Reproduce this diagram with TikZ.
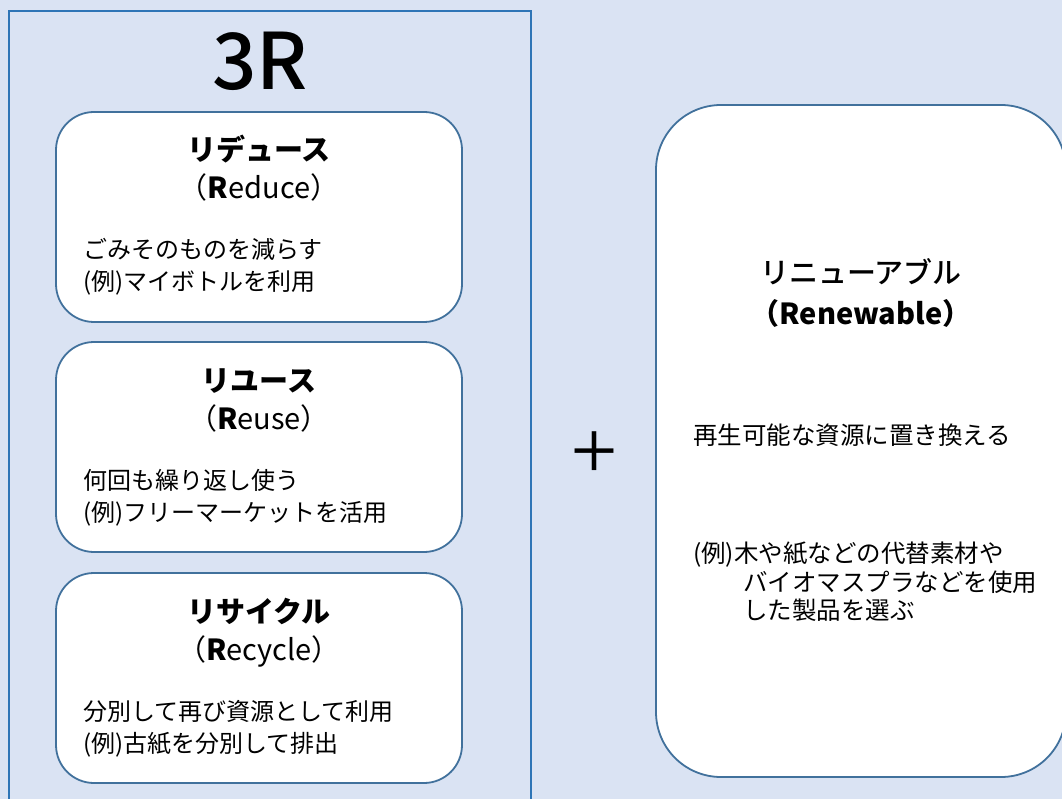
\documentclass[tikz,border=0pt]{standalone}
\usepackage{fontspec}
\setmainfont{Noto Sans CJK JP}
\newfontfamily\mediumfont{Noto Sans CJK JP Medium}
\usetikzlibrary{positioning}
\definecolor{bgblue}{HTML}{DAE3F3}
\definecolor{frameblue}{HTML}{2E75B6}
\definecolor{boxline}{HTML}{41719C}
\tikzset{
	rbox/.style={draw=boxline,line width=1.8pt,fill=white,rounded corners=38pt,minimum width=406pt,minimum height=210pt,inner sep=0pt},
	ttl/.style={font=\fontsize{29}{34}\selectfont\bfseries,anchor=base},
	sub/.style={font=\fontsize{29}{34}\selectfont,anchor=base},
	txt/.style={font=\fontsize{24}{30}\selectfont,anchor=base west,inner sep=0pt}
}
\begin{document}
\begin{tikzpicture}[x=1pt,y=-1pt]
		\fill[bgblue] (0,0) rectangle (1062,799);
		\useasboundingbox (0,0) rectangle (1062,799);
		% 3R frame
		\draw[frameblue,line width=2pt] (9,830)--(9,11)--(531,11)--(531,830);
		\node[font=\fontsize{78}{80}\mediumfont,anchor=base] (title3r) at (260,90) {3R};
		\foreach \t/\nm/\jp/\en/\la/\lb in {112/reduce/リデュース/educe/ごみそのものを減らす/(例)マイボトルを利用,342/reuse/リユース/euse/何回も繰り返し使う/(例)フリーマーケットを活用,573/recycle/リサイクル/ecycle/分別して再び資源として利用/(例)古紙を分別して排出}{
			\node[rbox] (\nm) at (259,\t+105) {};
			\node[ttl] (\nm-ttl) at (259,\t+49) {\jp};
			\node[sub] (\nm-en) at (259,\t+87) {（\textbf{R}\en）};
			\node[txt] (\nm-a) at (83,\t+147) {\la};
			\node[txt] (\nm-b) at (83,\t+179) {\lb};
		}
		\node[font=\fontsize{54}{56}\mediumfont] (plus) at (594,452) {＋};
		% renewable
		\node[draw=boxline,line width=1.8pt,fill=white,rounded corners=65pt,minimum width=410pt,minimum height=672pt] (renew) at (861,441) {};
		\node[ttl,font=\fontsize{29}{34}\mediumfont] (renew-ttl) at (861,284) {リニューアブル};
		\node[ttl] (renew-en) at (861,324) {（Renewable）};
		\begin{scope}[txt/.append style={font=\fontsize{24.5}{30}\selectfont}]
		\node[txt] (renew-a) at (693,444) {再生可能な資源に置き換える};
		\node[txt] (renew-b) at (693,562) {(例)木や紙などの代替素材や};
		\node[txt] (renew-c) at (743,591) {バイオマスプラなどを使用};
		\node[txt] (renew-d) at (743,619) {した製品を選ぶ};
		\end{scope}
\end{tikzpicture}
\end{document}
